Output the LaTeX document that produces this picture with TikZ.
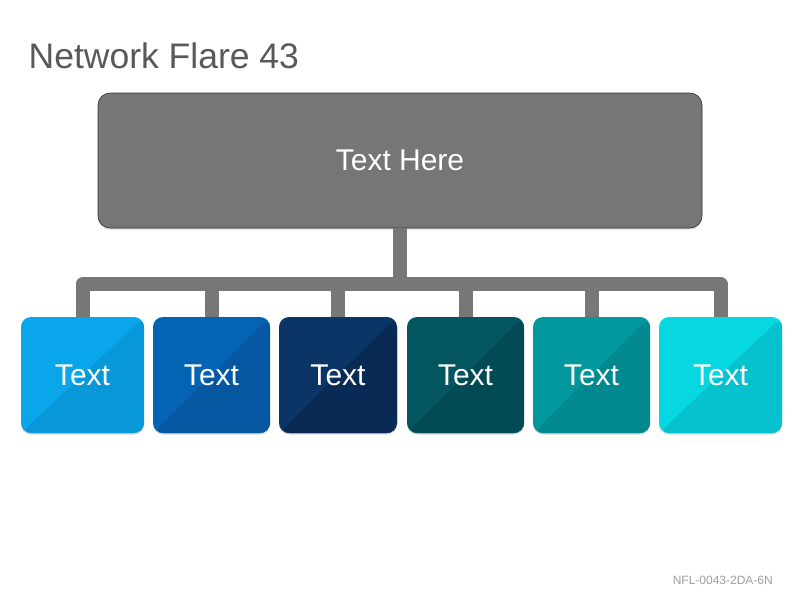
\documentclass[tikz,border=0pt]{standalone}
\usepackage{fontspec}
\setmainfont{Liberation Sans}
\definecolor{titlec}{HTML}{595959}
\definecolor{footc}{HTML}{A0A0A0}
\definecolor{greyc}{HTML}{777777}
\definecolor{topc}{HTML}{767676}
\definecolor{shadc}{HTML}{D8D8D8}
\definecolor{c1}{HTML}{0AA6EC}\definecolor{c1d}{HTML}{0898D9}
\definecolor{c2}{HTML}{0563B4}\definecolor{c2d}{HTML}{0557A1}
\definecolor{c3}{HTML}{0A3566}\definecolor{c3d}{HTML}{082A55}
\definecolor{c4}{HTML}{03555F}\definecolor{c4d}{HTML}{024B55}
\definecolor{c5}{HTML}{02979D}\definecolor{c5d}{HTML}{02888F}
\definecolor{c6}{HTML}{07D7E1}\definecolor{c6d}{HTML}{05C2CE}
\tikzset{
  conn/.style={draw=greyc, line width=14pt, line join=round},
  softshadow/.style={preaction={fill=shadc, transform canvas={yshift=-1.5pt}}},
  topbox/.style={rectangle, rounded corners=12pt, fill=topc, draw=black!55!topc, line width=0.6pt,
    minimum width=604pt, minimum height=135pt, inner sep=0pt, text=white,
    font=\fontsize{30}{34}\selectfont, softshadow},
  tile/.style={rectangle, rounded corners=10pt, minimum height=116pt, inner sep=0pt, text=white,
    font=\fontsize{30}{34}\selectfont, softshadow,
    path picture={\fill[#1] (path picture bounding box.south west) -- (path picture bounding box.south east) -- (path picture bounding box.north east) -- cycle;}},
}
\begin{document}
\begin{tikzpicture}[x=1pt,y=-1pt]
\useasboundingbox (0,0) rectangle (800,600);
\fill[white] (0,0) rectangle (800,600);

\node[anchor=base west, inner sep=0pt, text=titlec, font=\fontsize{35.5}{40}\selectfont] (title) at (28.5,68) {Network Flare 43};

\node[topbox] (top) at (400,160.5) {Text Here};

\coordinate (bar) at (400,284);

\node[tile=c1d, fill=c1, minimum width=123pt] (b1) at (82.5,375) {Text};
\node[tile=c2d, fill=c2, minimum width=117pt] (b2) at (211.5,375) {Text};
\node[tile=c3d, fill=c3, minimum width=118pt] (b3) at (338,375) {Text};
\node[tile=c4d, fill=c4, minimum width=117pt] (b4) at (465.5,375) {Text};
\node[tile=c5d, fill=c5, minimum width=117pt] (b5) at (591.5,375) {Text};
\node[tile=c6d, fill=c6, minimum width=123pt] (b6) at (720.5,375) {Text};

\draw[conn] (top.south) -- (bar);
\draw[conn] (b1.north) -- (b1.north |- bar) -- (b6.north |- bar) -- (b6.north);
\draw[conn] (b2.north |- bar) -- (b2.north);
\draw[conn] (b3.north |- bar) -- (b3.north);
\draw[conn] (b4.north |- bar) -- (b4.north);
\draw[conn] (b5.north |- bar) -- (b5.north);

\node[anchor=base east, inner sep=0pt, text=footc, font=\fontsize{12}{14}\selectfont] (foot) at (773,584) {NFL-0043-2DA-6N};
\end{tikzpicture}
\end{document}
